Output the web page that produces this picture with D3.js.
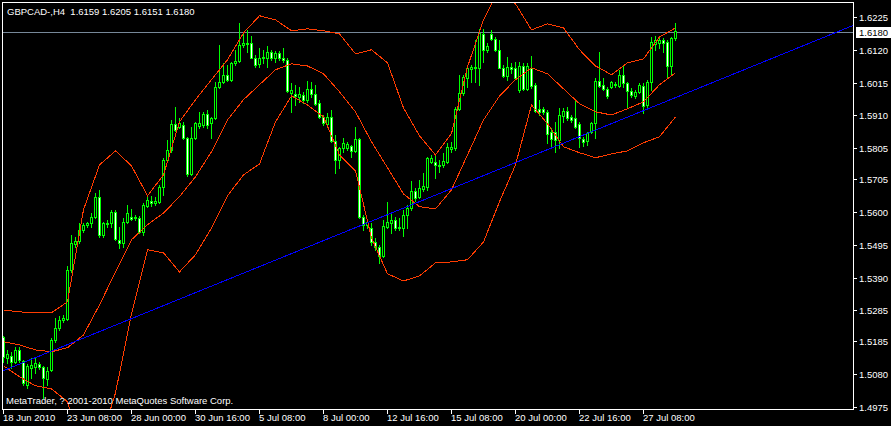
<!DOCTYPE html>
<html><head><meta charset="utf-8">
<script src="https://cdn.jsdelivr.net/npm/d3@7"></script>
<style>html,body{margin:0;padding:0;background:#000;overflow:hidden}text{font-family:"Liberation Sans",Arial,sans-serif;font-size:9.5px;white-space:pre}</style>
</head><body><svg id="c" width="891" height="426"></svg>
<script>
const symbolTitle = "GBPCAD-,H4  1.6159 1.6205 1.6151 1.6180";
const copyright = "MetaTrader, ? 2001-2010 MetaQuotes Software Corp.";
const bidPrice = 1.6180;

const xTickBars = [0,16,32,48,64,80,96,112,128,144,160];
const xTickLabels = ["18 Jun 2010","23 Jun 08:00","28 Jun 00:00","30 Jun 16:00","5 Jul 08:00","8 Jul 00:00","12 Jul 16:00","15 Jul 08:00","20 Jul 00:00","22 Jul 16:00","27 Jul 08:00"];
const yTicks = [1.6225,1.6120,1.6015,1.5910,1.5805,1.5705,1.5600,1.5495,1.5390,1.5285,1.5185,1.5080,1.4975];

const open = [
1.5200,1.5133,1.5139,1.5120,1.5158,1.5123,1.5046,1.5101,1.5104,1.5113,
1.5104,1.5065,1.5094,1.5190,1.5229,1.5254,1.5258,1.5415,1.5498,1.5508,
1.5543,1.5559,1.5565,1.5585,1.5649,1.5527,1.5562,1.5565,1.5601,1.5511,
1.5501,1.5569,1.5585,1.5581,1.5581,1.5536,1.5620,1.5636,1.5629,1.5633,
1.5681,1.5767,1.5799,1.5883,1.5873,1.5879,1.5838,1.5722,1.5838,1.5876,
1.5879,1.5915,1.5886,1.5902,1.6001,1.6017,1.6040,1.6024,1.6078,1.6085,
1.6136,1.6142,1.6142,1.6094,1.6075,1.6094,1.6094,1.6113,1.6094,1.6110,
1.6094,1.6088,1.5982,1.5979,1.5969,1.5976,1.5960,1.5995,1.5979,1.5950,
1.5905,1.5883,1.5905,1.5828,1.5767,1.5806,1.5806,1.5812,1.5796,1.5835,
1.5585,1.5559,1.5549,1.5504,1.5488,1.5459,1.5552,1.5565,1.5575,1.5549,
1.5549,1.5591,1.5614,1.5668,1.5649,1.5674,1.5681,1.5761,1.5761,1.5751,
1.5751,1.5761,1.5802,1.5806,1.5931,1.5982,1.6030,1.6059,1.6062,1.6062,
1.6171,1.6120,1.6171,1.6155,1.6120,1.6062,1.6036,1.6065,1.6062,1.5992,
1.6068,1.5995,1.6062,1.6008,1.5931,1.5931,1.5921,1.5857,1.5857,1.5831,
1.5908,1.5924,1.5905,1.5902,1.5883,1.5835,1.5828,1.5857,1.5886,1.6020,
1.6008,1.5995,1.6001,1.6011,1.6004,1.6040,1.6014,1.5988,1.5972,1.5985,
1.6004,1.5943,1.6017,1.6139,1.6142,1.6152,1.6145,1.6068,1.6159];
const high = [
1.5203,1.5158,1.5152,1.5168,1.5168,1.5126,1.5113,1.5133,1.5133,1.5120,
1.5107,1.5104,1.5197,1.5261,1.5267,1.5270,1.5427,1.5527,1.5520,1.5565,
1.5565,1.5569,1.5597,1.5661,1.5671,1.5569,1.5575,1.5607,1.5607,1.5552,
1.5581,1.5623,1.5610,1.5591,1.5588,1.5629,1.5649,1.5652,1.5649,1.5687,
1.5774,1.5831,1.5895,1.5937,1.5902,1.5889,1.5841,1.5873,1.5889,1.5921,
1.5921,1.5927,1.5905,1.6017,1.6136,1.6078,1.6072,1.6081,1.6120,1.6206,
1.6177,1.6184,1.6165,1.6104,1.6126,1.6120,1.6133,1.6120,1.6117,1.6117,
1.6126,1.6094,1.6014,1.6008,1.6001,1.5985,1.6020,1.6017,1.6008,1.5960,
1.5911,1.5918,1.5927,1.5847,1.5809,1.5838,1.5825,1.5815,1.5873,1.5838,
1.5591,1.5575,1.5565,1.5517,1.5495,1.5575,1.5633,1.5597,1.5585,1.5581,
1.5607,1.5623,1.5700,1.5677,1.5703,1.5725,1.5777,1.5783,1.5786,1.5767,
1.5790,1.5822,1.5825,1.5937,1.6040,1.6040,1.6065,1.6072,1.6152,1.6187,
1.6187,1.6142,1.6184,1.6161,1.6152,1.6072,1.6097,1.6078,1.6081,1.6081,
1.6078,1.6078,1.6101,1.6014,1.5960,1.5937,1.5927,1.5870,1.5889,1.5934,
1.5934,1.5937,1.5911,1.5960,1.5889,1.5841,1.5857,1.5889,1.6030,1.6113,
1.6030,1.6001,1.6020,1.6017,1.6056,1.6072,1.6017,1.5998,1.5992,1.6014,
1.6014,1.6024,1.6161,1.6165,1.6161,1.6158,1.6152,1.6161,1.6205];
const low = [
1.5120,1.5117,1.5101,1.5117,1.5120,1.5046,1.5037,1.5069,1.5085,1.5098,
1.5004,1.5046,1.5091,1.5184,1.5222,1.5248,1.5254,1.5408,1.5488,1.5501,
1.5536,1.5552,1.5552,1.5581,1.5520,1.5520,1.5552,1.5552,1.5511,1.5485,
1.5488,1.5565,1.5575,1.5575,1.5533,1.5527,1.5617,1.5620,1.5623,1.5629,
1.5655,1.5761,1.5793,1.5860,1.5870,1.5835,1.5716,1.5719,1.5835,1.5870,
1.5873,1.5870,1.5838,1.5899,1.5998,1.6014,1.6020,1.6020,1.6072,1.6081,
1.6129,1.6113,1.6094,1.6065,1.6065,1.6078,1.6065,1.6088,1.6081,1.6088,
1.6081,1.5985,1.5921,1.5943,1.5953,1.5950,1.5953,1.5969,1.5943,1.5902,
1.5879,1.5873,1.5825,1.5725,1.5742,1.5793,1.5799,1.5777,1.5793,1.5581,
1.5543,1.5549,1.5495,1.5479,1.5437,1.5456,1.5549,1.5533,1.5543,1.5543,
1.5524,1.5549,1.5607,1.5636,1.5645,1.5668,1.5671,1.5757,1.5709,1.5729,
1.5745,1.5757,1.5793,1.5799,1.5927,1.5976,1.6001,1.6017,1.6017,1.6008,
1.6081,1.6113,1.6152,1.6117,1.6062,1.6033,1.6024,1.6046,1.6027,1.5985,
1.5992,1.5992,1.5998,1.5921,1.5911,1.5915,1.5822,1.5809,1.5793,1.5806,
1.5889,1.5895,1.5889,1.5870,1.5809,1.5812,1.5815,1.5854,1.5838,1.6001,
1.5992,1.5966,1.5998,1.6001,1.6001,1.6001,1.5937,1.5969,1.5966,1.5982,
1.5918,1.5937,1.5992,1.6120,1.6126,1.6113,1.6030,1.6040,1.6151];
const close = [
1.5136,1.5145,1.5120,1.5158,1.5126,1.5053,1.5107,1.5110,1.5117,1.5104,
1.5069,1.5091,1.5190,1.5229,1.5254,1.5261,1.5415,1.5501,1.5508,1.5543,
1.5559,1.5565,1.5585,1.5649,1.5527,1.5565,1.5565,1.5601,1.5514,1.5501,
1.5569,1.5597,1.5578,1.5585,1.5536,1.5623,1.5639,1.5629,1.5636,1.5681,
1.5767,1.5799,1.5883,1.5863,1.5886,1.5838,1.5722,1.5838,1.5886,1.5886,
1.5915,1.5879,1.5902,1.6001,1.6017,1.6040,1.6024,1.6078,1.6085,1.6136,
1.6142,1.6139,1.6094,1.6072,1.6094,1.6097,1.6113,1.6094,1.6110,1.6094,
1.6088,1.5988,1.5992,1.5972,1.5979,1.5960,1.5995,1.5979,1.5947,1.5905,
1.5886,1.5905,1.5828,1.5767,1.5806,1.5822,1.5818,1.5796,1.5835,1.5585,
1.5559,1.5569,1.5504,1.5488,1.5459,1.5556,1.5569,1.5575,1.5549,1.5552,
1.5591,1.5614,1.5668,1.5645,1.5677,1.5684,1.5774,1.5774,1.5751,1.5748,
1.5764,1.5809,1.5809,1.5931,1.5982,1.6033,1.6062,1.6065,1.6065,1.6174,
1.6120,1.6133,1.6155,1.6120,1.6062,1.6036,1.6065,1.6059,1.6030,1.6068,
1.5995,1.6068,1.6004,1.5924,1.5921,1.5921,1.5851,1.5835,1.5831,1.5911,
1.5924,1.5902,1.5895,1.5873,1.5838,1.5825,1.5854,1.5886,1.6020,1.6004,
1.5995,1.5972,1.6017,1.6008,1.6040,1.6014,1.5988,1.5976,1.5985,1.6008,
1.5940,1.6017,1.6145,1.6152,1.6152,1.6142,1.6068,1.6158,1.6180];

// Bollinger band lines, read every 4 bars (bar 0,4,...,168)
const bandStep = 4;
const bandUpper = [1.5286,1.5280,1.5277,1.5277,1.5312,1.5607,1.5751,1.5796,1.5748,1.5652,1.5719,1.5889,1.5960,1.6024,1.6088,1.6174,1.6229,1.6216,1.6181,1.6187,1.6181,1.6171,1.6107,1.6120,1.6078,1.5934,1.5844,1.5783,1.5851,1.6065,1.6216,1.6318,1.6267,1.6184,1.6203,1.6190,1.6120,1.6068,1.6040,1.6078,1.6091,1.6161,1.6190];
const bandMiddle = [1.5184,1.5174,1.5158,1.5152,1.5165,1.5206,1.5302,1.5408,1.5511,1.5559,1.5597,1.5649,1.5713,1.5793,1.5895,1.5960,1.6008,1.6056,1.6075,1.6068,1.6043,1.5985,1.5921,1.5825,1.5742,1.5658,1.5617,1.5610,1.5671,1.5783,1.5895,1.5972,1.6024,1.6062,1.6043,1.5995,1.5947,1.5921,1.5911,1.5931,1.5953,1.6008,1.6046];
const bandLower = [1.5107,1.5072,1.5043,1.5033,1.4992,1.4806,1.4854,1.5020,1.5274,1.5479,1.5469,1.5408,1.5463,1.5549,1.5652,1.5719,1.5754,1.5889,1.5972,1.5943,1.5905,1.5783,1.5732,1.5517,1.5402,1.5379,1.5395,1.5437,1.5440,1.5447,1.5504,1.5633,1.5751,1.5943,1.5883,1.5809,1.5790,1.5774,1.5786,1.5796,1.5822,1.5841,1.5905];

// trend line anchors (bar index, price)
const trendBars = [0, 168];
const trendPrices = [1.5091, 1.5966];

const W = 891, H = 426;
const P = {l:2, t:2, r:853, b:409};
const svg = d3.select('#c');
svg.append('rect').attr('width', W).attr('height', H).attr('fill', '#000');

const x = d3.scaleLinear().domain([0, 168]).range([3, 675]);
const y = d3.scaleLinear().domain([1.4975, 1.6225]).range([407, 17]);
const Y = v => Math.round(y(v));
const X = i => Math.round(x(i));

svg.append('clipPath').attr('id','clip').append('rect')
  .attr('x', P.l+1).attr('y', P.t+1).attr('width', P.r-P.l-1).attr('height', P.b-P.t-1);
const g = svg.append('g').attr('clip-path','url(#clip)');

// bid line
g.append('line').attr('x1', P.l).attr('x2', P.r).attr('y1', Y(bidPrice)+1.5).attr('y2', Y(bidPrice)+1.5)
  .attr('stroke', '#778899').attr('stroke-width', 1).attr('shape-rendering','crispEdges');

// candles
const n = Math.min(open.length, high.length, low.length, close.length);
const bars = d3.range(n).map(i => ({i, o:open[i], h:high[i], l:low[i], c:close[i]}));
const cg = g.append('g').attr('shape-rendering','crispEdges');
cg.selectAll('line.w').data(bars).join('line').attr('class','w')
  .attr('x1', d => X(d.i)+0.5).attr('x2', d => X(d.i)+0.5)
  .attr('y1', d => Y(d.h)).attr('y2', d => Y(d.l)+1)
  .attr('stroke', '#00ff00').attr('stroke-width', 1);
cg.selectAll('rect.b').data(bars).join('rect').attr('class','b')
  .attr('x', d => X(d.i)-0.5)
  .attr('y', d => Y(Math.max(d.o, d.c))+0.5)
  .attr('width', 2)
  .attr('height', d => Math.max(1, Y(Math.min(d.o, d.c)) - Y(Math.max(d.o, d.c))))
  .attr('fill', d => d.c >= d.o ? '#000' : '#fff')
  .attr('stroke', '#00ff00').attr('stroke-width', 1);

// bands
const bandLine = d3.line().x(d => X(d[0])+0.5).y(d => y(d[1]));
[bandUpper, bandMiddle, bandLower].forEach(arr => {
  g.append('path').datum(arr.map((v, k) => [k*bandStep, v]))
    .attr('d', bandLine).attr('fill','none').attr('stroke','#ff3c00').attr('stroke-width',1)
    .attr('shape-rendering','crispEdges');
});

// trend line (ray)
const slope = (trendPrices[1]-trendPrices[0])/(trendBars[1]-trendBars[0]);
const tStart = x.invert(P.l), tEnd = x.invert(P.r);
g.append('line')
  .attr('x1', x(tStart)).attr('y1', y(trendPrices[0] + slope*(tStart-trendBars[0])))
  .attr('x2', x(tEnd)).attr('y2', y(trendPrices[0] + slope*(tEnd-trendBars[0])))
  .attr('stroke','#0000ff').attr('stroke-width',1).attr('shape-rendering','crispEdges');

// frame
svg.append('rect').attr('x', P.l+0.5).attr('y', P.t+0.5).attr('width', P.r-P.l).attr('height', P.b-P.t)
  .attr('fill','none').attr('stroke','#fff').attr('stroke-width',1);

// y axis ticks + labels
const yg = svg.append('g');
yTicks.forEach(t => {
  yg.append('line').attr('x1', P.r).attr('x2', P.r+4).attr('y1', Y(t)+0.5).attr('y2', Y(t)+0.5).attr('stroke','#fff');
  yg.append('text').attr('x', P.r+6).attr('y', Y(t)+4).attr('fill','#fff').text(t.toFixed(4));
});
// bid price label
yg.append('rect').attr('x', P.r+3).attr('y', Y(bidPrice)-4).attr('width', 35).attr('height', 11).attr('fill','#fff');
yg.append('text').attr('x', P.r+6).attr('y', Y(bidPrice)+5).attr('fill','#000').text(bidPrice.toFixed(4));

// x axis ticks + labels
const xg = svg.append('g');
xTickBars.forEach((b, k) => {
  xg.append('line').attr('x1', X(b)+0.5).attr('x2', X(b)+0.5).attr('y1', P.b).attr('y2', P.b+5).attr('stroke','#fff');
  xg.append('text').attr('x', X(b)).attr('y', 421).attr('fill','#fff').text(xTickLabels[k]);
});

// title and copyright
svg.append('text').attr('x', 7).attr('y', 15).attr('fill','#fff').text(symbolTitle);
svg.append('text').attr('x', 6).attr('y', 404).attr('fill','#fff').text(copyright);
</script></body></html>
